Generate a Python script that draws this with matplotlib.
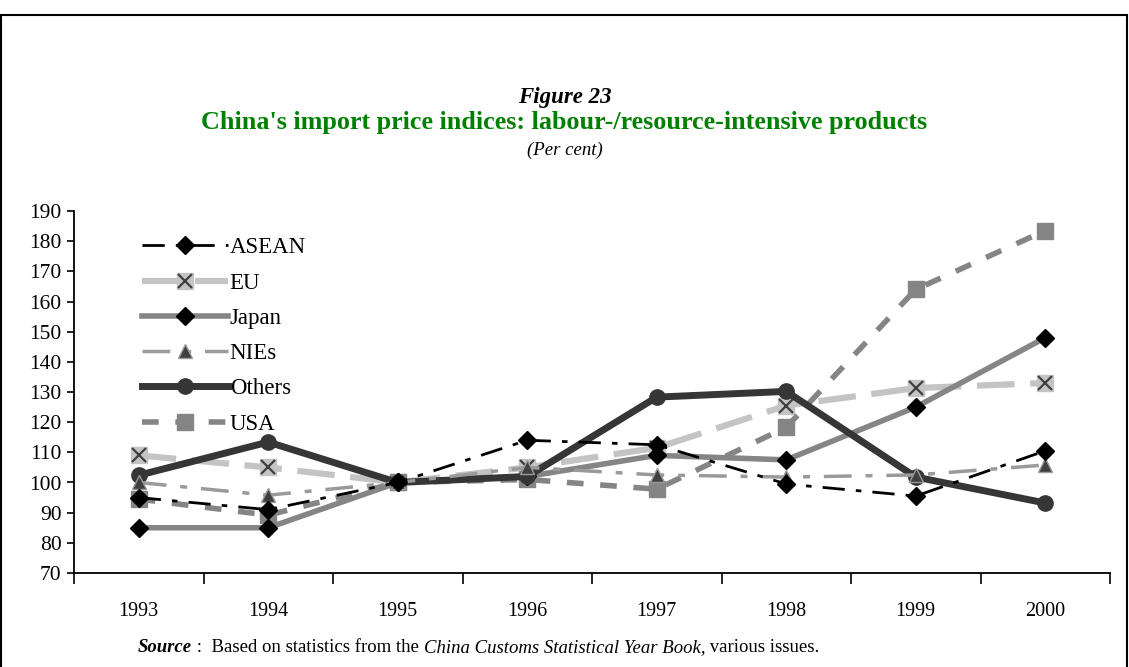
import matplotlib
matplotlib.use("Agg")
import matplotlib.pyplot as plt
from matplotlib.patches import Rectangle

plt.rcParams['font.family'] = ['Liberation Serif', 'DejaVu Serif']

years = ['1993', '1994', '1995', '1996', '1997', '1998', '1999', '2000']
asean = [95.0, 91.0, 100.0, 114.0, 112.5, 99.5, 95.5, 110.5]
eu = [109.0, 105.0, 100.0, 105.0, 111.5, 125.5, 131.3, 133.0]
japan = [85.0, 85.0, 100.0, 102.0, 109.0, 107.5, 125.0, 148.0]
nies = [100.0, 95.8, 100.0, 105.0, 102.5, 101.8, 102.5, 105.8]
others = [102.4, 113.4, 100.0, 102.0, 128.3, 130.2, 101.8, 93.2]
usa = [94.5, 89.2, 100.0, 101.0, 97.8, 118.3, 164.0, 183.5]

fig = plt.figure(figsize=(11.29, 6.67), dpi=100)
ax = fig.add_axes([74 / 1129, 1 - 573 / 667, (1110 - 74) / 1129, (573 - 211) / 667])

x = list(range(len(years)))

h_asean, = ax.plot(x, asean, color='black', lw=2, dashes=[8, 4, 2, 4],
                   marker='D', ms=9, mfc='black', mec='black', zorder=6)
h_eu_line, = ax.plot(x, eu, color='#c4c4c4', lw=4.5, dashes=[6, 2.5],
                     marker='s', ms=11, mfc='#c4c4c4', mec='#c4c4c4', zorder=3)
h_eu_x, = ax.plot(x, eu, ls='none', marker='x', ms=10, mew=1.6, color='#404040', zorder=3)
h_japan, = ax.plot(x, japan, color='#858585', lw=4, marker='D', ms=9,
                   mfc='black', mec='black', zorder=4)
h_nies, = ax.plot(x, nies, color='#9a9a9a', lw=2.5, dashes=[8, 4, 2, 4],
                  marker='^', ms=10, mfc='#404040', mec='#9a9a9a', zorder=5)
h_others, = ax.plot(x, others, color='#363636', lw=5, marker='o', ms=11,
                    mfc='#363636', mec='#363636', zorder=4)
h_usa, = ax.plot(x, usa, color='#858585', lw=4, dashes=[3, 3],
                 marker='s', ms=12, mfc='#858585', mec='#858585', zorder=3)

ax.set_xlim(-0.5, 7.5)
ax.set_ylim(70, 190)
ax.set_yticks(range(70, 191, 10))
ax.set_xticks(x)
ax.set_xticklabels(years)
ax.set_xticks([i - 0.5 for i in range(len(years) + 1)], minor=True)
ax.tick_params(axis='x', which='major', length=0, pad=21, labelsize=14.5)
ax.tick_params(axis='x', which='minor', length=8, width=1.2, direction='out')
ax.tick_params(axis='y', length=5, width=1.2, direction='out', labelsize=15.5, pad=4)
for side in ['top', 'right']:
    ax.spines[side].set_visible(False)
for side in ['left', 'bottom']:
    ax.spines[side].set_linewidth(1.3)

ax.legend([h_asean, (h_eu_line, h_eu_x), h_japan, h_nies, h_others, h_usa],
          ['ASEAN', 'EU', 'Japan', 'NIEs', 'Others', 'USA'],
          loc='upper left', bbox_to_anchor=(0.0656, 0.927), frameon=False,
          fontsize=16.5, handlelength=3.75, handletextpad=0.08, labelspacing=0.62,
          borderaxespad=0, borderpad=0)

# outer frame
fig.patches.append(Rectangle((1 / 1129, -0.01), 1126 / 1129, 1 - 15 / 667 + 0.01,
                             transform=fig.transFigure, fill=False,
                             edgecolor='black', lw=1.5))

fig.text(0.5, 1 - 97 / 667, 'Figure 23', ha='center', va='center',
         fontsize=16.5, fontweight='bold', fontstyle='italic')
fig.text(0.5, 1 - 123 / 667,
         "China's import price indices: labour-/resource-intensive products",
         ha='center', va='center', fontsize=18.8, fontweight='bold', color='#008000')
fig.text(0.5, 1 - 150 / 667, '(Per cent)', ha='center', va='center',
         fontsize=13.5, fontstyle='italic')

t = fig.text(138 / 1129, 1 - 648 / 667, 'Source', ha='left', va='center',
             fontsize=13.5, fontweight='bold', fontstyle='italic')
t = ax.annotate(' :  Based on statistics from the ', xy=(1, 0), xycoords=t,
                va='bottom', ha='left', fontsize=13.5)
t = ax.annotate('China Customs Statistical Year Book,', xy=(1, 0), xycoords=t,
                va='bottom', ha='left', fontsize=13.5, fontstyle='italic')
ax.annotate(' various issues.', xy=(1, 0), xycoords=t,
            va='bottom', ha='left', fontsize=13.5)

fig.savefig('out.png', dpi=100)
